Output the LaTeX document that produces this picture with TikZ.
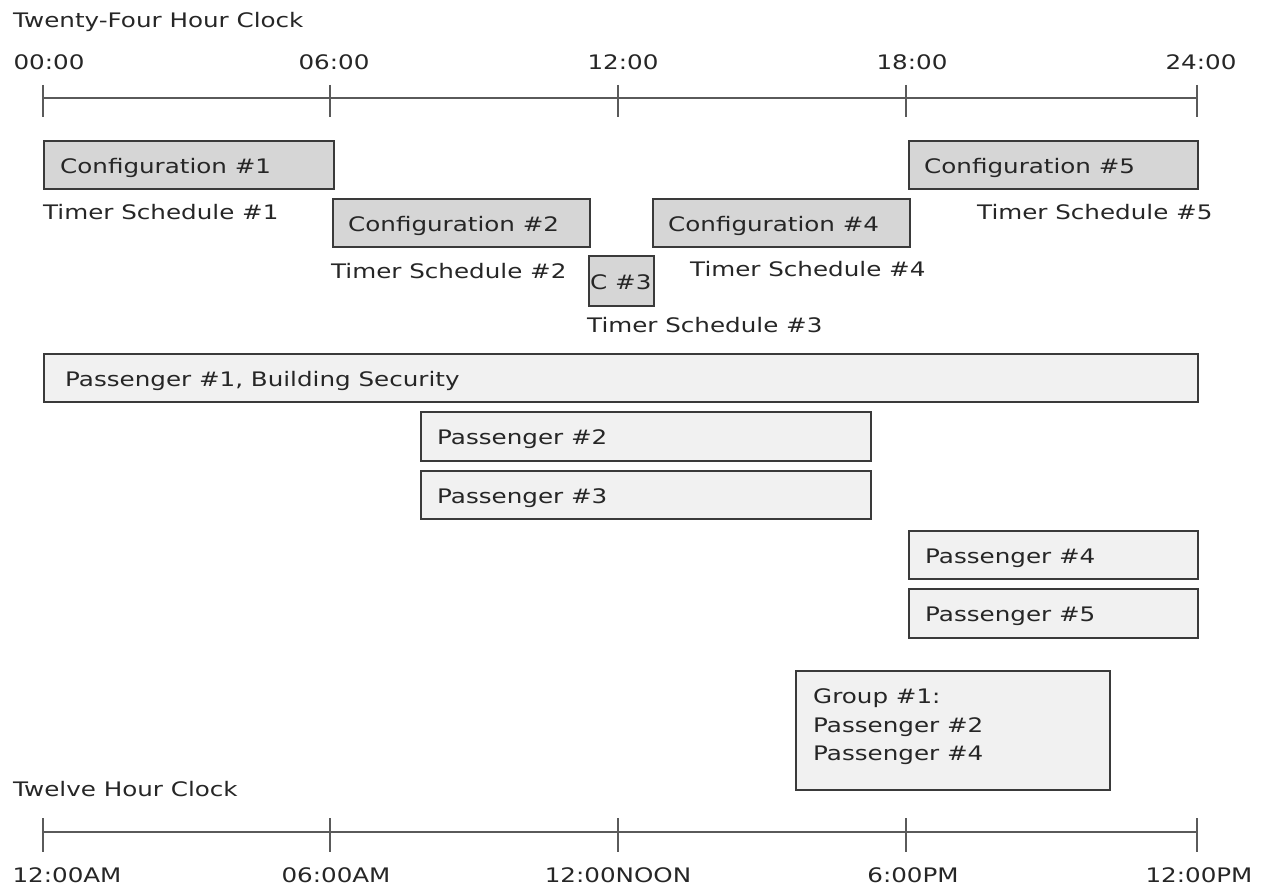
\documentclass[tikz,border=0pt]{standalone}
\usepackage{fontspec}
\setmainfont[FakeStretch=1.23]{DejaVu Sans}
\definecolor{cfgfill}{HTML}{D6D6D6}
\definecolor{pasfill}{HTML}{F1F1F1}
\definecolor{edge}{HTML}{3A3A3A}
\definecolor{axis}{HTML}{5A5A5A}
\definecolor{txt}{HTML}{262626}
\newcommand\mybox[6]{%
  \node[#2, anchor=north west, minimum width={(#5-#3)*1pt}, minimum height={(#6-#4)*1pt}] (#1) at (#3,#4) {};}
\begin{document}
\begin{tikzpicture}[x=1pt,y=-1pt,
  every node/.style={font=\fontsize{20}{28}\selectfont, text=txt, inner sep=0pt},
  cfgbox/.style={draw=edge, line width=2pt, fill=cfgfill},
  pasbox/.style={draw=edge, line width=2pt, fill=pasfill},
  lbl/.style={anchor=base west},
  clbl/.style={anchor=base},
  axisline/.style={draw=axis, line width=2.6pt},
  tickline/.style={draw=axis, line width=2pt}]
\useasboundingbox (0,0) rectangle (1265,888);
% titles
\node[lbl] (t24) at (13,28) {Twenty-Four Hour Clock};
\node[lbl] (t12) at (13,796) {Twelve Hour Clock};
% top axis
\foreach \n/\x in {a/43,b/330,c/618,d/906,e/1197}{
  \coordinate (T\n) at (\x,98);
  \coordinate (T\n u) at (\x,85);
  \coordinate (T\n d) at (\x,117);
  \draw[tickline] (T\n u) -- (T\n d);
  \coordinate (B\n) at (\x,832);
  \coordinate (B\n u) at (\x,818);
  \coordinate (B\n d) at (\x,852);
  \draw[tickline] (B\n u) -- (B\n d);
}
\draw[axisline] (Ta) -- (Te);
\draw[axisline] (Ba) -- (Be);
\node[clbl] (h00) at (49,70) {00:00};
\node[clbl] (h06) at (334,70) {06:00};
\node[clbl] (h12) at (623,70) {12:00};
\node[clbl] (h18) at (912,70) {18:00};
\node[clbl] (h24) at (1201,70) {24:00};
\node[clbl] (m1) at (67,882) {12:00AM};
\node[clbl] (m2) at (336,882) {06:00AM};
\node[clbl] (m3) at (618,882) {12:00NOON};
\node[clbl] (m4) at (913,882) {6:00PM};
\node[clbl] (m5) at (1199,882) {12:00PM};
% configurations
\mybox{c1}{cfgbox}{43}{140}{333}{188}
\node[lbl] (c1t) at (60,173) {Configuration \#1};
\node[lbl] (s1) at (43,219) {Timer Schedule \#1};
\mybox{c2}{cfgbox}{332}{198}{589}{246}
\node[lbl] (c2t) at (348,231) {Configuration \#2};
\node[lbl] (s2) at (331,278) {Timer Schedule \#2};
\mybox{c3}{cfgbox}{588}{255}{653}{305}
\node[lbl] (c3t) at (590,289) {C \#3};
\node[lbl] (s3) at (587,332) {Timer Schedule \#3};
\mybox{c4}{cfgbox}{652}{198}{909}{246}
\node[lbl] (c4t) at (668,231) {Configuration \#4};
\node[lbl] (s4) at (690,276) {Timer Schedule \#4};
\mybox{c5}{cfgbox}{908}{140}{1197}{188}
\node[lbl] (c5t) at (924,173) {Configuration \#5};
\node[lbl] (s5) at (977,219) {Timer Schedule \#5};
% passengers
\mybox{p1}{pasbox}{43}{353}{1197}{401}
\node[lbl] (p1t) at (65,386) {Passenger \#1, Building Security};
\mybox{p2}{pasbox}{420}{411}{870}{460}
\node[lbl] (p2t) at (437,444) {Passenger \#2};
\mybox{p3}{pasbox}{420}{470}{870}{518}
\node[lbl] (p3t) at (437,503) {Passenger \#3};
\mybox{p4}{pasbox}{908}{530}{1197}{578}
\node[lbl] (p4t) at (925,563) {Passenger \#4};
\mybox{p5}{pasbox}{908}{588}{1197}{637}
\node[lbl] (p5t) at (925,621) {Passenger \#5};
% group
\mybox{g1}{pasbox}{795}{670}{1109}{789}
\node[lbl] (g1a) at (813,703) {Group \#1:};
\node[lbl] (g1b) at (813,732) {Passenger \#2};
\node[lbl] (g1c) at (813,760) {Passenger \#4};
\end{tikzpicture}
\end{document}
